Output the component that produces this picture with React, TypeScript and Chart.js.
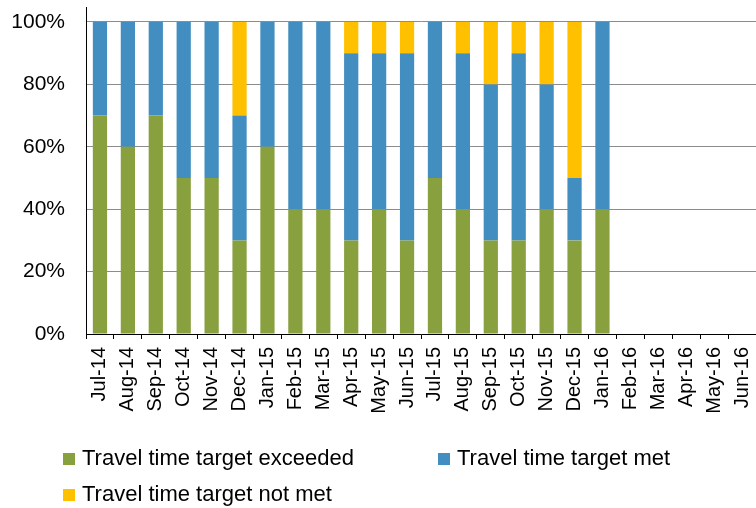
import React, { useEffect, useRef } from "react";
import { Chart, registerables } from "chart.js";

Chart.register(...registerables);

const categories = [
  "Jul-14", "Aug-14", "Sep-14", "Oct-14", "Nov-14", "Dec-14",
  "Jan-15", "Feb-15", "Mar-15", "Apr-15", "May-15", "Jun-15",
  "Jul-15", "Aug-15", "Sep-15", "Oct-15", "Nov-15", "Dec-15",
  "Jan-16", "Feb-16", "Mar-16", "Apr-16", "May-16", "Jun-16",
];

const exceeded = [70, 60, 70, 50, 50, 30, 60, 40, 40, 30, 40, 30, 50, 40, 30, 30, 40, 30, 40, null, null, null, null, null];
const met = [30, 40, 30, 50, 50, 40, 40, 60, 60, 60, 50, 60, 50, 50, 50, 60, 40, 20, 60, null, null, null, null, null];
const notMet = [0, 0, 0, 0, 0, 30, 0, 0, 0, 10, 10, 10, 0, 10, 20, 10, 20, 50, 0, null, null, null, null, null];

const yTicks = [0, 20, 40, 60, 80, 100];

const seriesNames = ["Travel time target exceeded", "Travel time target met", "Travel time target not met"];
const seriesColors = ["#88A03E", "#428EC0", "#FFC000"];

const FONT = "'Liberation Sans', Arial, sans-serif";

export default function App() {
  const ref = useRef<HTMLCanvasElement | null>(null);

  useEffect(() => {
    document.body.style.margin = "0";
    if (!ref.current) return;
    const chart = new Chart(ref.current, {
      type: "bar",
      data: {
        labels: categories,
        datasets: [
          { label: seriesNames[0], data: exceeded, backgroundColor: seriesColors[0] },
          { label: seriesNames[1], data: met, backgroundColor: seriesColors[1] },
          { label: seriesNames[2], data: notMet, backgroundColor: seriesColors[2] },
        ],
      },
      options: {
        responsive: false,
        animation: false,
        layout: { padding: { top: 7, left: 0, right: 0, bottom: 0 } },
        datasets: {
          bar: { barPercentage: 1, categoryPercentage: 0.51, borderWidth: 0 },
        },
        plugins: {
          legend: { display: false },
          tooltip: { enabled: false },
        },
        scales: {
          x: {
            stacked: true,
            offset: true,
            border: { display: true, color: "#000", width: 1 },
            grid: {
              offset: true,
              drawOnChartArea: false,
              drawTicks: true,
              tickLength: 5,
              color: "#000",
            },
            ticks: {
              autoSkip: false,
              minRotation: 90,
              maxRotation: 90,
              padding: 8,
              color: "#000",
              font: { family: FONT, size: 20 },
            },
            afterFit: (s: any) => {
              s.height = 174;
              s.paddingLeft = 0;
              s.paddingRight = 0;
            },
          },
          y: {
            stacked: true,
            min: 0,
            max: 104.8,
            border: { display: true, color: "#000", width: 1 },
            grid: {
              drawTicks: false,
              color: "#8C8C8C",
              lineWidth: 1,
            },
            ticks: {
              stepSize: 20,
              padding: 21,
              color: "#000",
              font: { family: FONT, size: 21 },
              callback: (v: any) => v + "%",
            },
            afterBuildTicks: (s: any) => {
              s.ticks = yTicks.map((v) => ({ value: v }));
            },
            afterFit: (s: any) => {
              s.width = 86;
              s.paddingTop = 0;
              s.paddingBottom = 0;
            },
          },
        },
      },
    });
    return () => chart.destroy();
  }, []);

  const legendItems = [
    { name: seriesNames[0], color: seriesColors[0], x: 63, y: 453 },
    { name: seriesNames[1], color: seriesColors[1], x: 438, y: 453 },
    { name: seriesNames[2], color: seriesColors[2], x: 63, y: 489 },
  ];

  return (
    <div style={{ position: "relative", width: 756, height: 508, overflow: "hidden", background: "#fff" }}>
      <canvas ref={ref} width={756} height={508} style={{ position: "absolute", left: 0, top: 0 }} />
      {legendItems.map((it) => (
        <div key={it.name}>
          <div
            style={{
              position: "absolute",
              left: it.x,
              top: it.y,
              width: 12,
              height: 12,
              background: it.color,
            }}
          />
          <div
            style={{
              position: "absolute",
              left: it.x + 19,
              top: it.y - 6.6,
              fontFamily: FONT,
              fontSize: 22,
              lineHeight: "24px",
              color: "#000",
              whiteSpace: "nowrap",
            }}
          >
            {it.name}
          </div>
        </div>
      ))}
    </div>
  );
}
